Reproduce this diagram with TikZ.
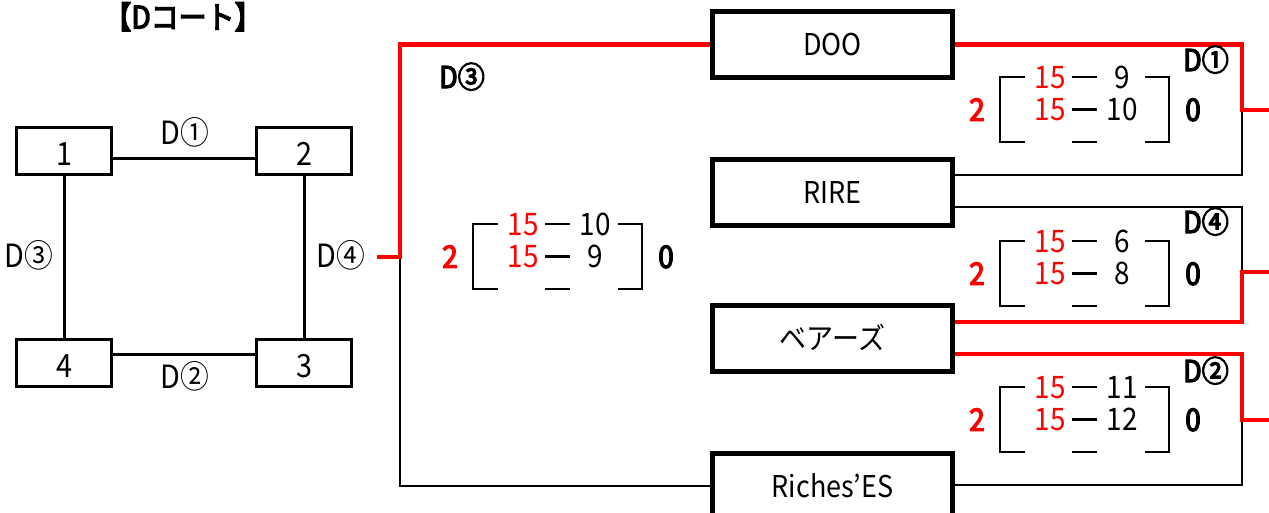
\documentclass[tikz,border=0pt]{standalone}
\usepackage{fontspec}
\setmainfont{Noto Sans CJK JP}[FakeStretch=0.9]
\newfontfamily\semib{Noto Sans CJK JP}[FakeStretch=0.9, FakeBold=4]
\newcommand\scoreblk[6]{%
  % #1 name, #2 X (left bracket), #3 Y (top row), #4 opp row1, #5 opp row2, #6 unused
  \draw[brk] (#2+25,#3) -- (#2,#3) -- (#2,#3+65) -- (#2+25,#3+65);
  \draw[brk] (#2+145,#3) -- (#2+169,#3) -- (#2+169,#3+65) -- (#2+145,#3+65);
  \draw[brk] (#2+72,#3) -- (#2+97,#3);
  \draw[brk] (#2+72,#3+32.5) -- (#2+97,#3+32.5);
  \draw[brk] (#2+72,#3+65) -- (#2+97,#3+65);
  \node[sc,text=red] (#1a) at (#2+50,#3) {15};
  \node[sc,text=red] (#1b) at (#2+50,#3+32.5) {15};
  \node[sc] (#1c) at (#2+122,#3) {#4};
  \node[sc] (#1d) at (#2+122,#3+32.5) {#5};
  \node[scb,text=red] (#1w) at (#2-23,#3+32.5) {2};
  \node[scb] (#1l) at (#2+193,#3+32.5) {0};
}
\begin{document}
\begin{tikzpicture}[x=1pt,y=-1pt,
  sbox/.style={draw, line width=3pt, minimum width=95pt, minimum height=47pt,
    inner sep=0pt, font=\fontsize{32}{32}\selectfont, text height=29pt, text depth=0pt},
  tbox/.style={draw, line width=5pt, minimum width=240pt, minimum height=66pt,
    inner sep=0pt, font=\fontsize{30}{30}\selectfont, text height=22pt, text depth=0pt},
  lbl/.style={inner sep=0pt, font=\fontsize{32}{32}\selectfont, text height=23pt, text depth=0pt},
  dlbl/.style={inner sep=0pt, font=\fontsize{30}{30}\semib, text height=22pt, text depth=0pt},
  sc/.style={inner sep=0pt, font=\fontsize{31}{31}\selectfont, text height=22.7pt, text depth=0pt},
  scb/.style={inner sep=0pt, font=\fontsize{31}{31}\semib, text height=22.7pt, text depth=0pt},
  conn/.style={line width=3pt},
  rline/.style={draw=red, line width=4.5pt},
  bline/.style={line width=2.7pt},
  brk/.style={line width=2.7pt}
]
\useasboundingbox (0,0) rectangle (1269,512);
\clip (0,0) rectangle (1269,512);

% ---- left court diagram ----
\node[inner sep=0pt, font=\fontsize{31}{31}\semib, text height=27pt, text depth=4pt] (title) at (183,17) {【Dコート】};
\node[sbox] (n1) at (64,151) {1};
\node[sbox] (n2) at (304,151) {2};
\node[sbox] (n4) at (64,362.5) {4};
\node[sbox] (n3) at (304,362.5) {3};
\draw[conn] ([yshift=-7pt]n1.east) -- ([yshift=-7pt]n2.west);
\draw[conn] ([yshift=8.5pt]n4.east) -- ([yshift=8.5pt]n3.west);
\draw[conn] (n1) -- (n4);
\draw[conn] (n2) -- (n3);
\node[lbl] (l1) at (185,133) {D①};
\node[lbl] (l2) at (185,377) {D②};
\node[lbl] (l3) at (29,256) {D③};
\node[lbl] (l4) at (341,256) {D④};

% ---- team boxes ----
\node[tbox] (t1) at (832.5,44.5) {DOO};
\node[tbox] (t2) at (832.5,192) {RIRE};
\node[tbox] (t3) at (832.5,338.5) {ベアーズ};
\node[tbox] (t4) at (832.5,486) {Riches’ES};

% ---- left bracket (D3 final) ----
\coordinate (d4end) at (377,257);
\coordinate (j1) at (400,257);
\draw[bline] (j1) |- (t4.west);
\draw[rline] (d4end) -- (j1) |- (t1.west);

% ---- right brackets ----
\coordinate (v1) at (1242,110);
\coordinate (v2) at (1242,272);
\coordinate (v3) at (1242,420);
\coordinate (o1) at (1269,110);
\coordinate (o2) at (1269,272);
\coordinate (o3) at (1269,420);
\draw[bline] ([yshift=17pt]t2.east) -| (v1);
\draw[rline] (t1.east) -| (v1) -- (o1);
\draw[bline] ([yshift=-15pt]t2.east) -| (v2);
\draw[rline] ([yshift=16.5pt]t3.east) -| (v2) -- (o2);
\draw[bline] ([yshift=1pt]t4.east) -| (v3);
\draw[rline] ([yshift=-15.5pt]t3.east) -| (v3) -- (o3);

% ---- match labels and scores ----
\node[dlbl] (m3) at (462,77) {D③};
\node[dlbl] (m1) at (1206,60) {D①};
\node[dlbl] (m4) at (1206,222) {D④};
\node[dlbl] (m2) at (1206,371) {D②};
\scoreblk{s3}{473}{224}{10}{9}{}
\scoreblk{s1}{1000}{77}{9}{10}{}
\scoreblk{s4}{1000}{241}{6}{8}{}
\scoreblk{s2}{1000}{387}{11}{12}{}
\end{tikzpicture}
\end{document}
